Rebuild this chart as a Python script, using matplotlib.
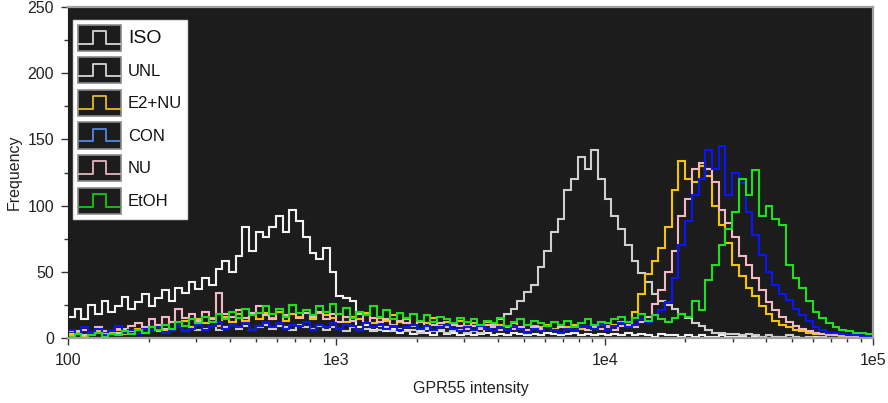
import matplotlib
matplotlib.use('Agg')
import matplotlib.pyplot as plt
import numpy as np
from matplotlib.legend_handler import HandlerBase
from matplotlib.patches import Rectangle
from matplotlib.lines import Line2D
from matplotlib.ticker import FixedLocator, FixedFormatter, LogLocator, NullFormatter, MultipleLocator

plt.rcParams['font.family'] = ['Liberation Sans', 'DejaVu Sans']

# ---- data (histogram counts, 40 bins per decade from 1e2 to 1e5) ----
labels = ['ISO', 'UNL', 'E2+NU', 'CON', 'NU', 'EtOH']
colors = ['#f2f2f2', '#cfcfcf', '#f5c400', '#0a14ff', '#f4b8c4', '#1ee01e']
legend_colors = ['#c8c8c8', '#c8c8c8', '#d8b020', '#4f7fd6', '#d8a8b0', '#10c010']

iso = [16, 22, 14, 25, 18, 28, 20, 24, 31, 22,
       27, 33, 24, 30, 36, 28, 38, 34, 42, 37,
       45, 40, 52, 58, 50, 62, 84, 66, 80, 76,
       84, 92, 80, 97, 88, 76, 64, 60, 68, 50,
       32, 30, 28, 8, 10, 6, 9, 5, 7, 4,
       6, 3, 5, 4, 2, 5, 3, 4, 2, 3,
       2, 3, 4, 2, 3, 2, 4, 3, 2, 3,
       2, 4, 3, 2, 3, 4, 2, 3, 2, 3,
       2, 3, 2, 4, 2, 3, 2, 1, 3, 2,
       2, 1, 2, 1, 2, 1, 1, 2, 1, 1,
       1, 0, 1, 1, 0, 1, 0, 0, 1, 0,
       0, 1, 0, 0, 0, 1, 0, 0, 0, 0]

unl = [3, 5, 2, 4, 6, 3, 5, 4, 7, 5,
       6, 4, 8, 5, 7, 6, 9, 5, 8, 6,
       7, 9, 6, 8, 10, 7, 9, 6, 8, 10,
       7, 9, 8, 6, 10, 8, 7, 9, 6, 8,
       7, 5, 8, 6, 7, 5, 6, 8, 5, 7,
       5, 6, 4, 7, 5, 6, 4, 5, 6, 4,
       5, 4, 7, 10, 14, 18, 22, 28, 35, 40,
       54, 66, 80, 90, 112, 120, 137, 128, 142, 120,
       105, 92, 82, 70, 58, 49, 42, 33, 28, 25,
       22, 18, 15, 11, 9, 6, 4, 4, 3, 3,
       2, 3, 2, 1, 2, 1, 1, 2, 1, 0,
       1, 0, 1, 0, 0, 1, 0, 0, 0, 0]

e2nu = [2, 4, 1, 3, 5, 2, 4, 6, 3, 5,
        7, 4, 8, 10, 6, 12, 9, 13, 8, 14,
        11, 15, 9, 16, 12, 18, 13, 17, 14, 19,
        15, 20, 13, 18, 16, 21, 14, 19, 17, 15,
        18, 12, 16, 14, 19, 11, 15, 13, 17, 12,
        14, 10, 13, 11, 15, 9, 12, 10, 13, 9,
        11, 8, 12, 9, 10, 8, 11, 7, 10, 9,
        8, 10, 7, 9, 8, 10, 7, 9, 8, 10,
        9, 10, 12, 10, 20, 33, 48, 58, 68, 84,
        112, 134, 120, 118, 130, 122, 100, 85, 72, 55,
        47, 38, 32, 24, 18, 13, 10, 8, 6, 5,
        4, 3, 3, 2, 2, 1, 2, 1, 1, 0]

con = [6, 3, 8, 4, 7, 2, 5, 9, 4, 6,
       3, 7, 5, 8, 4, 6, 9, 5, 7, 10,
       6, 9, 12, 7, 10, 8, 11, 6, 9, 12,
       8, 11, 7, 10, 9, 12, 6, 10, 8, 11,
       7, 10, 9, 6, 11, 8, 10, 7, 9, 6,
       8, 10, 7, 9, 6, 8, 10, 7, 5, 8,
       6, 9, 7, 5, 8, 6, 9, 7, 4, 7,
       5, 8, 6, 4, 7, 5, 8, 9, 7, 10,
       6, 9, 11, 8, 10, 14, 12, 17, 21, 27,
       45, 70, 88, 108, 120, 142, 128, 145, 108, 125,
       117, 95, 78, 63, 50, 40, 33, 29, 22, 17,
       13, 8, 6, 4, 4, 3, 2, 2, 1, 1]

nu = [5, 3, 6, 4, 8, 5, 3, 7, 6, 9,
      11, 8, 14, 10, 16, 12, 22, 15, 18, 13,
      20, 14, 34, 18, 16, 21, 15, 19, 24, 17,
      14, 22, 17, 25, 15, 19, 16, 20, 14, 18,
      12, 16, 13, 18, 11, 15, 12, 14, 10, 13,
      11, 9, 12, 8, 10, 11, 8, 10, 9, 7,
      9, 7, 10, 8, 6, 9, 7, 8, 6, 8,
      7, 9, 6, 8, 7, 5, 8, 6, 9, 7,
      8, 6, 9, 10, 8, 12, 16, 26, 36, 50,
      66, 92, 105, 128, 132, 128, 118, 97, 87, 76,
      62, 55, 45, 36, 27, 21, 16, 12, 9, 7,
      5, 4, 3, 3, 2, 2, 1, 1, 1, 0]

etoh = [1, 3, 0, 2, 4, 1, 3, 2, 5, 3,
        6, 4, 8, 6, 10, 7, 12, 9, 14, 11,
        16, 12, 18, 14, 20, 15, 22, 17, 19, 24,
        18, 22, 16, 25, 19, 21, 17, 24, 20, 26,
        18, 23, 15, 20, 17, 24, 16, 21, 14, 19,
        15, 18, 13, 17, 12, 16, 14, 11, 15, 12,
        14, 10, 13, 11, 15, 9, 12, 14, 10, 13,
        11, 9, 12, 10, 13, 8, 11, 14, 10, 12,
        11, 14, 16, 12, 15, 18, 13, 17, 14, 12,
        15, 18, 16, 28, 21, 44, 55, 70, 82, 95,
        120, 108, 127, 92, 100, 90, 85, 55, 45, 38,
        28, 20, 15, 11, 8, 6, 5, 4, 4, 3]

xticks = [1e2, 1e3, 1e4, 1e5]
xtick_labels = ['100', '1e3', '1e4', '1e5']
yticks = [0, 50, 100, 150, 200, 250]

series = [iso, unl, e2nu, con, nu, etoh]
draw_order = [0, 1, 2, 4, 3, 5]

edges = np.logspace(2, 5, len(iso) + 1)

# ---- figure ----
fig = plt.figure(figsize=(8.88, 4.03), dpi=100)
fig.patch.set_facecolor('white')
ax = fig.add_axes([68 / 888, 1 - 338 / 403, (873 - 68) / 888, (338 - 7) / 403])
ax.set_facecolor('#1c1c1c')

for i in draw_order:
    ax.stairs(series[i], edges, color=colors[i], lw=1.5, baseline=None)

ax.set_xscale('log')
ax.set_xlim(1e2, 1e5)
ax.set_ylim(0, 250)

ax.xaxis.set_major_locator(FixedLocator(xticks))
ax.xaxis.set_major_formatter(FixedFormatter(xtick_labels))
ax.xaxis.set_minor_locator(LogLocator(base=10, subs=np.arange(2, 10)))
ax.xaxis.set_minor_formatter(NullFormatter())
ax.yaxis.set_major_locator(FixedLocator(yticks))
ax.yaxis.set_minor_locator(MultipleLocator(25))

ax.tick_params(axis='both', which='major', direction='out', length=5, width=1,
               color='#333333', labelsize=11.5, labelcolor='#222222', pad=5)
ax.tick_params(axis='both', which='minor', direction='out', length=3, width=1,
               color='#333333')
ax.tick_params(axis='x', which='major', pad=6)

for side in ['top', 'right', 'bottom']:
    ax.spines[side].set_color('#a0a0a0')
    ax.spines[side].set_linewidth(1.6)
ax.spines['left'].set_color('#1c1c1c')

ax.set_xlabel('GPR55 intensity', fontsize=11.5, color='#222222', labelpad=9)
ax.set_ylabel('Frequency', fontsize=11.5, color='#222222', labelpad=4)


class IconHandler(HandlerBase):
    def create_artists(self, legend, orig_handle, xdescent, ydescent,
                       width, height, fontsize, trans):
        x0, y0 = -xdescent, -ydescent
        rect = Rectangle((x0, y0), width, height, facecolor='#1c1c1c',
                         edgecolor='#8a8a8a', lw=1.2, transform=trans)
        xs = [x0 + 0.03 * width, x0 + 0.34 * width, x0 + 0.34 * width,
              x0 + 0.66 * width, x0 + 0.66 * width, x0 + 0.97 * width]
        ys = [y0 + 0.28 * height, y0 + 0.28 * height, y0 + 0.76 * height,
              y0 + 0.76 * height, y0 + 0.28 * height, y0 + 0.28 * height]
        ln = Line2D(xs, ys, color=orig_handle.get_color(), lw=1.4, transform=trans)
        return [rect, ln]


handles = [Line2D([], [], color=c) for c in legend_colors]
leg = ax.legend(handles, labels, handler_map={Line2D: IconHandler()},
                loc='upper left', bbox_to_anchor=(0.006, 0.962),
                fontsize=12, handlelength=2.6, handleheight=2.05,
                labelspacing=0.38, handletextpad=0.4, borderpad=0.3,
                borderaxespad=0, frameon=True, fancybox=False, framealpha=1,
                facecolor='white', edgecolor='#e0e0e0')
leg.get_texts()[0].set_fontsize(14)
for t in leg.get_texts():
    t.set_color('#111111')

fig.savefig('out.png', dpi=100, facecolor='white')
